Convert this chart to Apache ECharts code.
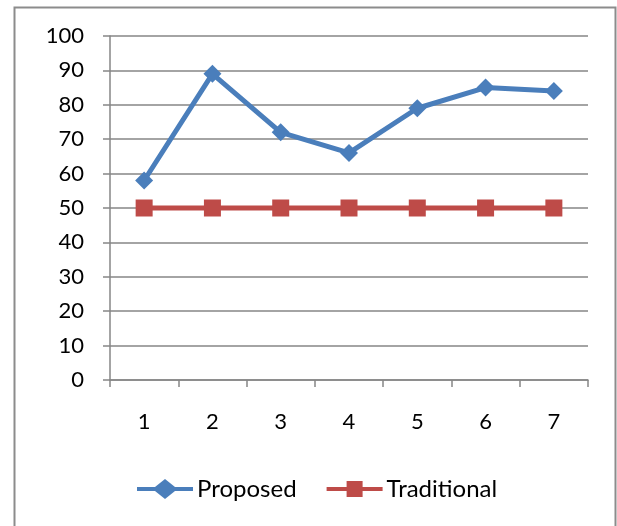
<!DOCTYPE html>
<html>
<head>
<meta charset="utf-8">
<script src="https://cdn.jsdelivr.net/npm/echarts@6/dist/echarts.min.js"></script>
<style>
  html, body { margin: 0; padding: 0; background: #fff; }
  #chart { width: 617px; height: 526px; }
</style>
</head>
<body>
<div id="chart"></div>
<script>
// Series data
var categories = ['1', '2', '3', '4', '5', '6', '7'];
var proposed = [58, 89, 72, 66, 79, 85, 84];
var traditional = [50, 50, 50, 50, 50, 50, 50];
var seriesNames = ['Proposed', 'Traditional'];

var FONT = 'Lato, "Open Sans", sans-serif';
var AXIS_GRAY = '#868686';
var BLUE = '#4A7EBB';
var RED = '#BE4B48';

// Legend glyphs: thick line segment with the series marker in the middle
var ICON_DIAMOND = 'path://M0,8L18,8L28,0L38,8L56,8L56,12L38,12L28,20L18,12L0,12Z';
var ICON_SQUARE = 'path://M0,8L20,8L20,2L36,2L36,8L56,8L56,12L36,12L36,18L20,18L20,12L0,12Z';

var chart = echarts.init(document.getElementById('chart'), null, { renderer: 'canvas' });

chart.setOption({
  backgroundColor: '#ffffff',
  animation: false,
  graphic: [{
    type: 'rect',
    shape: { x: 14.5, y: 7.5, width: 601, height: 540 },
    style: { fill: 'none', stroke: '#8c8c8c', lineWidth: 2 },
    silent: true
  }],
  grid: { left: 110, right: 29, top: 36, bottom: 146, containLabel: false },
  legend: {
    bottom: 25,
    left: 137,
    padding: 0,
    itemWidth: 56,
    itemHeight: 20,
    itemGap: 30,
    textStyle: { fontFamily: FONT, fontSize: 24, color: '#000', padding: [0, 0, 0, -1] },
    data: [
      { name: seriesNames[0], icon: ICON_DIAMOND },
      { name: seriesNames[1], icon: ICON_SQUARE }
    ]
  },
  xAxis: {
    type: 'category',
    data: categories,
    boundaryGap: true,
    axisLine: { lineStyle: { color: AXIS_GRAY, width: 1.5 } },
    axisTick: { show: true, length: 7, alignWithLabel: false, lineStyle: { color: AXIS_GRAY, width: 1.5 } },
    axisLabel: { fontFamily: FONT, fontSize: 22, color: '#000', margin: 31 }
  },
  yAxis: {
    type: 'value',
    min: 0,
    max: 100,
    interval: 10,
    axisLine: { show: true, lineStyle: { color: AXIS_GRAY, width: 1.5 } },
    axisTick: { show: true, length: 7, lineStyle: { color: AXIS_GRAY, width: 1.5 } },
    axisLabel: { fontFamily: FONT, fontSize: 22, color: '#000', margin: 26 },
    splitLine: { show: true, lineStyle: { color: AXIS_GRAY, width: 1.5 } }
  },
  series: [
    {
      name: seriesNames[0],
      type: 'line',
      data: proposed,
      symbol: 'diamond',
      symbolSize: 18,
      lineStyle: { color: BLUE, width: 5 },
      itemStyle: { color: BLUE }
    },
    {
      name: seriesNames[1],
      type: 'line',
      data: traditional,
      symbol: 'rect',
      symbolSize: 17,
      lineStyle: { color: RED, width: 5 },
      itemStyle: { color: RED }
    }
  ]
});
</script>
</body>
</html>
